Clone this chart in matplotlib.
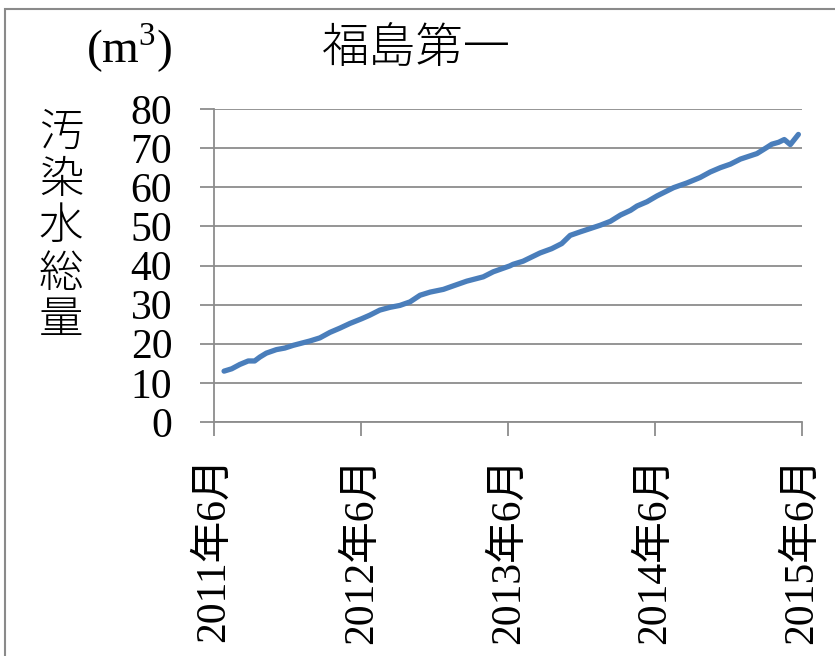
import matplotlib
matplotlib.use("Agg")
import matplotlib.pyplot as plt
from matplotlib.patches import Rectangle
import pandas as pd

# ---- data ----
dates = [
    "2011-06-26", "2011-07-15", "2011-08-04", "2011-08-25", "2011-09-10", "2011-09-23",
    "2011-10-09", "2011-11-03", "2011-11-24", "2011-12-15", "2012-01-25", "2012-02-19",
    "2012-03-15", "2012-04-09", "2012-05-04", "2012-06-02", "2012-06-22", "2012-07-17",
    "2012-08-11", "2012-09-05", "2012-09-30", "2012-10-25", "2012-11-19", "2012-12-22",
    "2013-01-24", "2013-02-18", "2013-03-31", "2013-04-25", "2013-06-05", "2013-06-13",
    "2013-07-08", "2013-08-19", "2013-09-17", "2013-10-12", "2013-11-02", "2013-11-27",
    "2014-01-16", "2014-02-10", "2014-03-07", "2014-04-01", "2014-04-17", "2014-05-12",
    "2014-06-06", "2014-07-17", "2014-08-19", "2014-09-21", "2014-10-16", "2014-11-10",
    "2014-12-05", "2014-12-30", "2015-02-09", "2015-03-06", "2015-03-18", "2015-04-04",
    "2015-04-18", "2015-05-03", "2015-05-23",
]
volume = [
    13.0, 13.6, 14.7, 15.6, 15.6, 16.6,
    17.6, 18.5, 18.9, 19.6, 20.7, 21.5,
    22.9, 24.0, 25.2, 26.4, 27.3, 28.6,
    29.3, 29.8, 30.7, 32.4, 33.2, 33.9,
    35.1, 36.0, 37.1, 38.4, 39.9, 40.3,
    41.1, 43.2, 44.3, 45.6, 47.7, 48.6,
    50.3, 51.3, 52.9, 54.1, 55.2, 56.3,
    57.8, 59.9, 61.1, 62.5, 63.9, 65.0,
    65.9, 67.2, 68.6, 70.2, 71.0, 71.5,
    72.2, 70.9, 73.5,
]
tick_years = [2011, 2012, 2013, 2014, 2015]
tick_labels = [f"{y}年6月" for y in tick_years]
y_ticks = [0, 10, 20, 30, 40, 50, 60, 70, 80]
title = "福島第一"
unit = "(m$^3$)"
ylabel_chars = list("汚染水総量")

# ---- styling ----
FONT = ["Liberation Serif", "Noto Sans CJK JP", "DejaVu Sans"]
CJK = ["Noto Sans CJK JP", "DejaVu Sans"]
plt.rcParams["font.family"] = FONT
plt.rcParams["mathtext.fontset"] = "custom"
plt.rcParams["mathtext.rm"] = "Liberation Serif"

GRID = "#8c8c8c"
LINE = "#4a7ebb"

fig = plt.figure(figsize=(8.35, 6.56), dpi=100)
ax = fig.add_axes([214/835, 1-422/656, (802-214)/835, (422-109)/656])

x = pd.to_datetime(dates)
ax.plot(x, volume, color=LINE, lw=3.8, solid_capstyle="round",
        solid_joinstyle="round", zorder=3)

ax.set_xlim(pd.Timestamp("2011-06-01"), pd.Timestamp("2015-06-01"))
ax.set_ylim(0, 80)
ax.set_yticks(y_ticks)
ax.set_yticklabels([str(v) for v in y_ticks])
ax.set_xticks([pd.Timestamp(f"{y}-06-01") for y in tick_years])
ax.set_xticklabels(tick_labels, rotation=90, va="top", ha="center")

ax.grid(axis="y", color=GRID, lw=1.3)
ax.set_axisbelow(True)
for s in ["top", "right"]:
    ax.spines[s].set_visible(False)
for s in ["left", "bottom"]:
    ax.spines[s].set_color(GRID)
    ax.spines[s].set_linewidth(1.3)
ax.tick_params(axis="y", length=10, width=1.3, color=GRID, pad=20, labelsize=30)
ax.tick_params(axis="x", length=10, width=1.3, color=GRID, pad=15, labelsize=30)

# titles
fig.text(129/835, 1-48/656, unit, fontsize=34, ha="center", va="center",
         family=FONT)
fig.text(416/835, 1-48/656, title, fontsize=34, ha="center", va="center",
         family=CJK, fontweight="light")
for i, ch in enumerate(ylabel_chars):
    fig.text(61/835, 1-(133 + i*47)/656, ch, fontsize=32, ha="center",
             va="center", family=CJK, fontweight="light")

# chart-area frame
fig.patches.append(Rectangle((5/835, -0.1), 1.2, 1.1-9/656, transform=fig.transFigure,
                             fill=False, edgecolor="#8a8a8a", lw=1.5))

fig.savefig("out.png", dpi=100)
